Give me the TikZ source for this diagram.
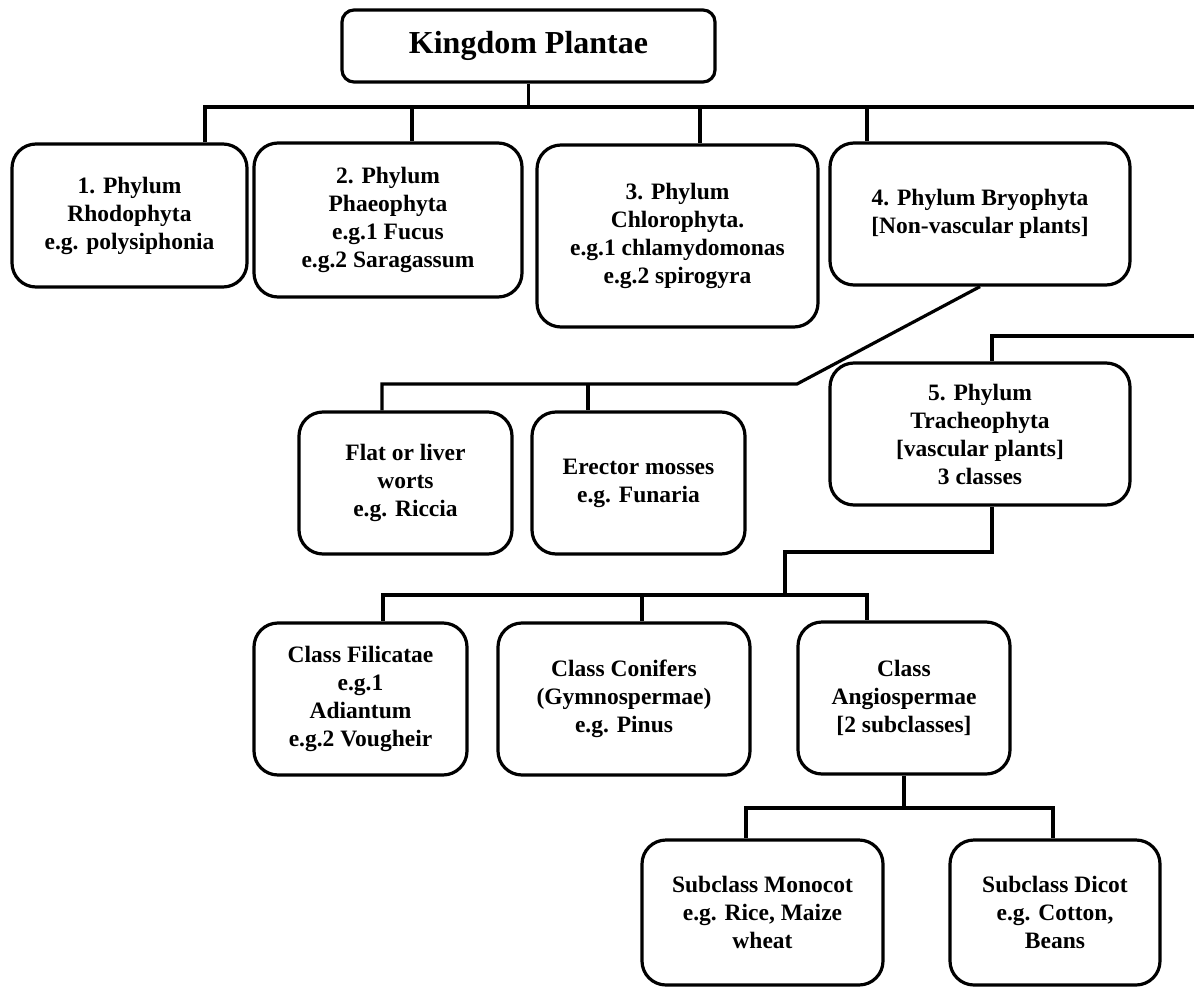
\documentclass[tikz,border=0pt]{standalone}
\usepackage{fontspec}
\setmainfont{Liberation Serif}

\begin{document}
\begin{tikzpicture}[x=1pt, y=-1pt,
		blok/.style={draw, line width=3.2pt, rounded corners=24pt, align=center, inner sep=0pt,
			font=\fontsize{23.5}{28}\selectfont\bfseries},
		linia/.style={line width=3.2pt}]
	\useasboundingbox ( 0, 0 ) rectangle ( 1194, 990 );

	% царство
	\node [blok, rounded corners=12pt, minimum width=373pt, minimum height=72pt,
		font=\fontsize{32}{36}\selectfont\bfseries] (kingdom) at ( 528.5, 46 ) {Kingdom Plantae};

	% отделы
	\node [blok, minimum width=235pt, minimum height=143pt] (rhodo) at ( 129.5, 215.5 ) {1. Phylum\\Rhodophyta\\e.g. polysiphonia};
	\node [blok, minimum width=268pt, minimum height=154pt] (phaeo) at ( 388, 220 ) {2. Phylum\\Phaeophyta\\e.g.1 Fucus\\e.g.2 Saragassum};
	\node [blok, minimum width=281pt, minimum height=182pt] (chloro) at ( 677.5, 236 ) {3. Phylum\\Chlorophyta.\\e.g.1 chlamydomonas\\e.g.2 spirogyra};
	\node [blok, minimum width=300pt, minimum height=142pt] (bryo) at ( 980, 214 ) {4. Phylum Bryophyta\\{[Non-vascular plants]}};

	% мхи
	\node [blok, minimum width=213pt, minimum height=142pt] (liver) at ( 405.5, 483 ) {Flat or liver\\worts\\e.g. Riccia};
	\node [blok, minimum width=213pt, minimum height=142pt] (erector) at ( 638.5, 483 ) {Erector mosses\\e.g. Funaria};
	\node [blok, minimum width=300pt, minimum height=142pt] (tracheo) at ( 980, 434 ) {5. Phylum\\Tracheophyta\\{[vascular plants]}\\3 classes};

	% классы
	\node [blok, minimum width=213pt, minimum height=152pt] (filic) at ( 360.5, 699 ) {Class Filicatae\\e.g.1\\Adiantum\\e.g.2 Vougheir};
	\node [blok, minimum width=252pt, minimum height=152pt] (conif) at ( 624, 699 ) {Class Conifers\\(Gymnospermae)\\e.g. Pinus};
	\node [blok, minimum width=212pt, minimum height=152pt] (angio) at ( 904, 698 ) {Class\\Angiospermae\\{[2 subclasses]}};

	% подклассы
	\node [blok, minimum width=241pt, minimum height=145pt] (mono) at ( 762.5, 912.5 ) {Subclass Monocot\\e.g. Rice, Maize\\wheat};
	\node [blok, minimum width=210pt, minimum height=145pt] (dicot) at ( 1055, 912.5 ) {Subclass Dicot\\e.g. Cotton,\\Beans};

	% связи: царство -> отделы
	\coordinate (bus1) at ( 205, 107 );
	\coordinate (bus1end) at ( 1194, 107 );
	\coordinate (p2) at ( 412, 107 );
	\coordinate (p3) at ( 700, 107 );
	\coordinate (p4) at ( 867, 107 );
	\draw [linia] (kingdom.south) -- (kingdom.south |- bus1);
	\draw [linia] (bus1 |- rhodo.north) -- (bus1) -- (bus1end);
	\draw [linia] (p2) -- (p2 |- phaeo.north);
	\draw [linia] (p3) -- (p3 |- chloro.north);
	\draw [linia] (p4) -- (p4 |- bryo.north);

	% связи: мохообразные
	\coordinate (mossbend) at ( 797, 384 );
	\coordinate (moss1) at ( 382, 384 );
	\coordinate (moss2) at ( 588, 384 );
	\draw [linia] (bryo.south) -- (mossbend) -- (moss1) -- (moss1 |- liver.north);
	\draw [linia] (moss2) -- (moss2 |- erector.north);

	% связи: сосудистые
	\coordinate (tr1) at ( 1194, 336 );
	\coordinate (tr2) at ( 992, 336 );
	\coordinate (tr3) at ( 992, 552 );
	\coordinate (tr4) at ( 785, 552 );
	\coordinate (tr5) at ( 785, 595 );
	\draw [linia] (tr1) -- (tr2) -- (tr2 |- tracheo.north);
	\draw [linia] (tr2 |- tracheo.south) -- (tr3) -- (tr4) -- (tr5);

	% связи: классы
	\coordinate (cl1) at ( 383, 595 );
	\coordinate (cl2) at ( 642, 595 );
	\coordinate (cl3) at ( 867, 595 );
	\draw [linia] (cl1 |- filic.north) -- (cl1) -- (cl3) -- (cl3 |- angio.north);
	\draw [linia] (cl2) -- (cl2 |- conif.north);

	% связи: подклассы
	\coordinate (sub1) at ( 746, 808 );
	\coordinate (sub2) at ( 1053, 808 );
	\draw [linia] (angio.south) -- (angio.south |- sub1);
	\draw [linia] (sub1 |- mono.north) -- (sub1) -- (sub2) -- (sub2 |- dicot.north);
\end{tikzpicture}
\end{document}
